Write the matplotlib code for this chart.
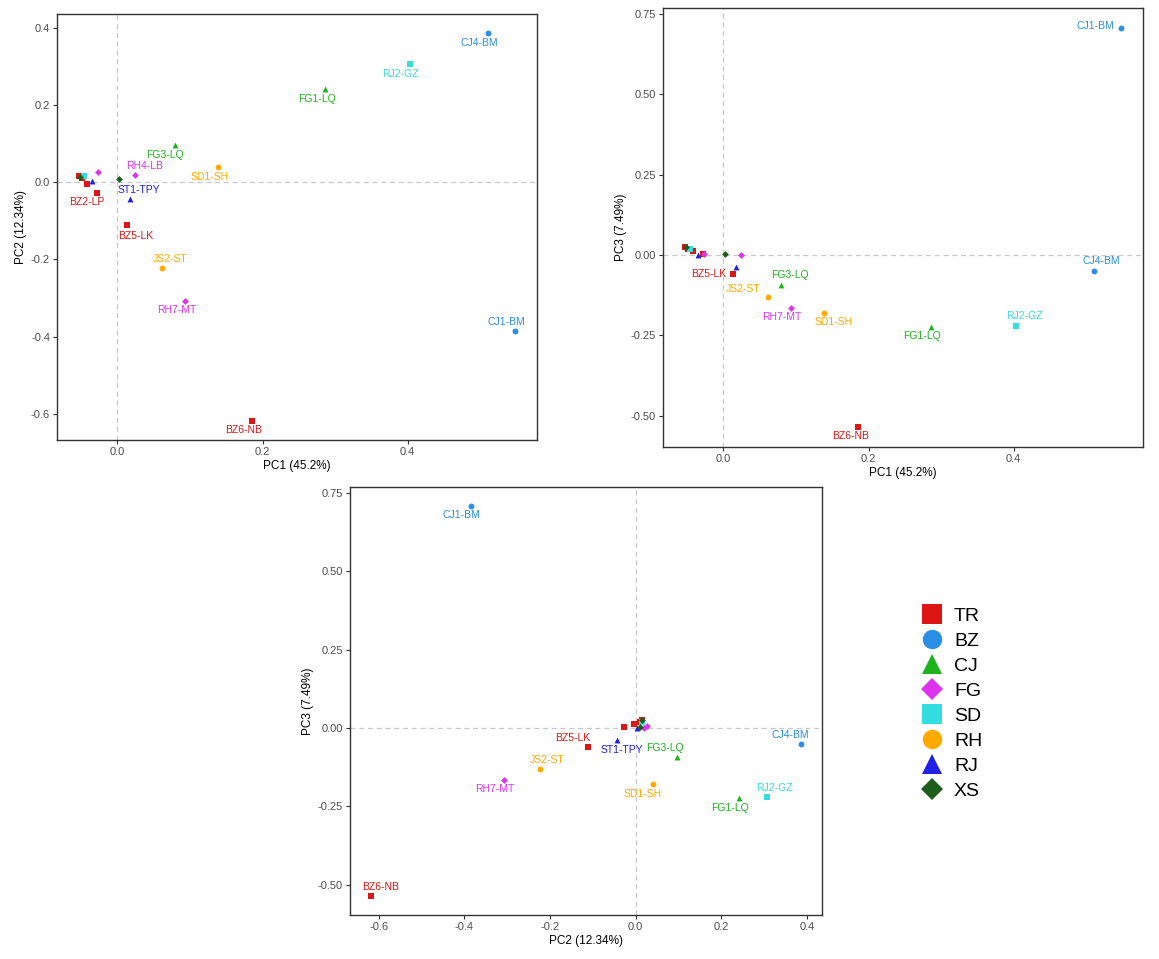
import numpy as np
import matplotlib.pyplot as plt
from matplotlib.lines import Line2D

plt.rcParams['font.family'] = ['Liberation Sans', 'DejaVu Sans']
plt.rcParams['axes.unicode_minus'] = False

# groups (legend order)
groups = ['TR', 'BZ', 'CJ', 'FG', 'SD', 'RH', 'RJ', 'XS']
group_colors = ['#DD1515', '#2B8FE6', '#1DB31D', '#DD33EE', '#33DDE0', '#FFAA00', '#1F1FE6', '#1A5E1A']
group_markers = ['s', 'o', '^', 'D', 's', 'o', '^', 'D']

# samples: PCA scores
sample_names = ['BZ2-LP', 'BZ5-LK', 'BZ6-NB', 'CJ1-BM', 'CJ4-BM', 'FG1-LQ', 'FG3-LQ',
                'RH4-LB', 'RH7-MT', 'RJ2-GZ', 'SD1-SH', 'JS2-ST', 'ST1-TPY',
                '', '', '', '', '', '', '', '']
sample_groups = ['TR', 'TR', 'TR', 'BZ', 'BZ', 'CJ', 'CJ',
                 'FG', 'FG', 'SD', 'RH', 'RH', 'RJ',
                 'TR', 'TR', 'TR', 'SD', 'RJ', 'FG', 'XS', 'XS']
pc1 = [-0.028, 0.013, 0.186, 0.548, 0.511, 0.286, 0.079,
       0.025, 0.093, 0.403, 0.139, 0.061, 0.017,
       -0.053, -0.049, -0.042, -0.046, -0.035, -0.027, 0.002, -0.052]
pc2 = [-0.028, -0.111, -0.617, -0.385, 0.385, 0.241, 0.097,
       0.019, -0.308, 0.306, 0.040, -0.223, -0.044,
       0.015, 0.010, -0.004, 0.015, 0.002, 0.026, 0.009, 0.014]
pc3 = [0.004, -0.060, -0.535, 0.707, -0.050, -0.225, -0.092,
       -0.001, -0.166, -0.222, -0.179, -0.130, -0.037,
       0.025, 0.020, 0.013, 0.019, 0.001, 0.005, 0.003, 0.024]

pc_titles = {'PC1': 'PC1 (45.2%)', 'PC2': 'PC2 (12.34%)', 'PC3': 'PC3 (7.49%)'}

# label offsets in pixels (dx, dy up)
offsets_12 = {'CJ4-BM': (-9, -10), 'RJ2-GZ': (-9, -10), 'FG1-LQ': (-8, -10), 'FG3-LQ': (-10, -10),
              'SD1-SH': (-9, -10), 'RH4-LB': (9, 9), 'ST1-TPY': (9, 9), 'BZ2-LP': (-10, -9),
              'BZ5-LK': (9, -11), 'JS2-ST': (9, 9), 'RH7-MT': (-8, -9), 'CJ1-BM': (-9, 9),
              'BZ6-NB': (-9, -9)}
offsets_13 = {'CJ1-BM': (-26, 2), 'CJ4-BM': (7, 10), 'BZ5-LK': (-24, 0), 'FG3-LQ': (9, 10),
              'JS2-ST': (-24, 8), 'RH7-MT': (-9, -9), 'SD1-SH': (9, -9), 'RJ2-GZ': (9, 10),
              'FG1-LQ': (-9, -9), 'BZ6-NB': (-8, -9)}
offsets_23 = {'CJ1-BM': (-9, -9), 'BZ5-LK': (-15, 9), 'ST1-TPY': (5, -10), 'FG3-LQ': (-12, 9),
              'SD1-SH': (-10, -10), 'CJ4-BM': (-10, 9), 'JS2-ST': (7, 9), 'RH7-MT': (-9, -9),
              'RJ2-GZ': (8, 9), 'FG1-LQ': (-9, -10), 'BZ6-NB': (9, 9)}

scores = {'PC1': np.array(pc1), 'PC2': np.array(pc2), 'PC3': np.array(pc3)}
sg = np.array(sample_groups)


def draw_panel(ax, xk, yk, offsets, xticks, yticks, yfmt):
    x, y = scores[xk], scores[yk]
    ax.axhline(0, color='#C8C8C8', ls=(0, (4, 3)), lw=0.9, zorder=1)
    ax.axvline(0, color='#C8C8C8', ls=(0, (4, 3)), lw=0.9, zorder=1)
    for g, c, m in zip(groups, group_colors, group_markers):
        k = sg == g
        ax.scatter(x[k], y[k], marker=m, c=c, s=12 if m == 'D' else 18,
                   linewidths=0, zorder=3)
    for name, (dx, dy) in offsets.items():
        i = sample_names.index(name)
        c = group_colors[groups.index(sample_groups[i])]
        ax.annotate(name, (x[i], y[i]), xytext=(dx, dy), textcoords='offset pixels',
                    ha='center', va='center', fontsize=7.5, color=c, zorder=4)
    # ggplot style 5% expansion
    rx, ry = x.max() - x.min(), y.max() - y.min()
    ax.set_xlim(x.min() - 0.05 * rx, x.max() + 0.05 * rx)
    ax.set_ylim(y.min() - 0.05 * ry, y.max() + 0.05 * ry)
    ax.set_xticks(xticks)
    ax.set_xticklabels([f'{v:.1f}' for v in xticks])
    ax.set_yticks(yticks)
    ax.set_yticklabels([yfmt.format(v) for v in yticks])
    for s in ax.spines.values():
        s.set_color('#333333')
        s.set_linewidth(1.0)
    ax.tick_params(length=3, width=0.8, color='#333333', labelsize=8, labelcolor='#4D4D4D', pad=2)
    ax.set_xlabel(pc_titles[xk], fontsize=8.5, labelpad=2)
    ax.set_ylabel(pc_titles[yk], fontsize=8.5, labelpad=3)


fig = plt.figure(figsize=(11.59, 9.59), dpi=100)
W, H = 1159, 959

ax1 = fig.add_axes([57 / W, 1 - 440 / H, (537 - 57) / W, (440 - 14) / H])
ax2 = fig.add_axes([663 / W, 1 - 447 / H, (1143 - 663) / W, (447 - 8) / H])
ax3 = fig.add_axes([350 / W, 1 - 915 / H, (822 - 350) / W, (915 - 487) / H])

draw_panel(ax1, 'PC1', 'PC2', offsets_12, [0.0, 0.2, 0.4],
           [-0.6, -0.4, -0.2, 0.0, 0.2, 0.4], '{:.1f}')
draw_panel(ax2, 'PC1', 'PC3', offsets_13, [0.0, 0.2, 0.4],
           [-0.5, -0.25, 0.0, 0.25, 0.5, 0.75], '{:.2f}')
draw_panel(ax3, 'PC2', 'PC3', offsets_23, [-0.6, -0.4, -0.2, 0.0, 0.2, 0.4],
           [-0.5, -0.25, 0.0, 0.25, 0.5, 0.75], '{:.2f}')

handles = [Line2D([], [], ls='', marker=m, color=c, markeredgewidth=0,
                  markersize=11 if m == 'D' else 14)
           for c, m in zip(group_colors, group_markers)]
fig.legend(handles, groups, loc='upper left', bbox_to_anchor=(920 / W, 1 - 607 / H),
           frameon=False, fontsize=14, handlelength=1.2, handletextpad=0.55,
           labelspacing=0.38, borderaxespad=0, borderpad=0)

fig.savefig('out.png', dpi=100)
